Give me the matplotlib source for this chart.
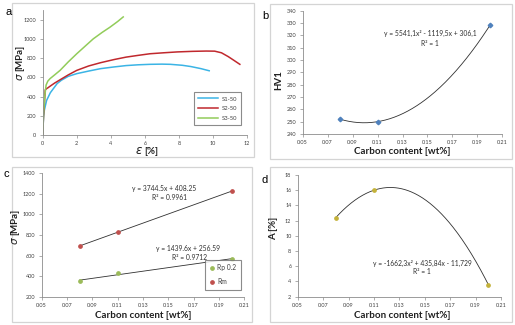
import numpy as np
import matplotlib
matplotlib.use("Agg")
import matplotlib.pyplot as plt
from matplotlib.patches import Rectangle

plt.rcParams['font.family'] = ['Lato', 'DejaVu Sans']

# ---------------- data ----------------
# panel a: stress-strain curves
s1_strain = [0, 0.05, 0.1, 0.23, 0.45, 0.63, 0.85, 1.1, 1.5, 2.0, 2.7, 3.4, 4.2, 4.9, 5.6, 6.3, 7.0, 7.5, 8.2, 8.7, 9.3, 9.78]
s1_stress = [0, 190, 260, 360, 440, 483, 535, 570, 610, 638, 665, 690, 708, 722, 730, 735, 737, 735, 725, 712, 690, 668]
s2_strain = [0, 0.05, 0.1, 0.15, 0.25, 0.3, 0.43, 0.7, 1.0, 1.5, 2.0, 2.7, 3.4, 4.2, 4.9, 5.6, 6.3, 7.1, 7.9, 8.8, 9.6, 10.1, 10.5, 10.9, 11.2, 11.58]
s2_stress = [0, 200, 330, 470, 485, 490, 507, 540, 572, 625, 672, 718, 752, 785, 810, 828, 845, 855, 864, 870, 873, 872, 855, 815, 780, 735]
s3_strain = [0, 0.05, 0.12, 0.2, 0.3, 0.43, 0.7, 1.02, 1.5, 2.0, 2.5, 2.97, 3.5, 3.95, 4.4, 4.73]
s3_stress = [0, 220, 400, 520, 560, 586, 625, 672, 760, 845, 925, 1000, 1068, 1121, 1180, 1228]
a_labels = ['S1-50', 'S2-50', 'S3-50']

# panels b-d: properties vs carbon content
carbon = [0.08, 0.11, 0.20]
hv1 = [252, 250, 328]
rp02 = [350, 428, 566]
rm = [690, 832, 1225]
elong = [12.4, 16.0, 3.6]

eq_b = ['y = 5541,1x² - 1119,5x + 306,1', 'R² = 1']
eq_c_rm = ['y = 3744.5x + 408.25', 'R² = 0.9961']
eq_c_rp = ['y = 1439.6x + 256.59', 'R² = 0.9712']
eq_d = ['y = -1662,3x² + 435,84x - 11,729', 'R² = 1']

carbon_ticks = [0.05, 0.07, 0.09, 0.11, 0.13, 0.15, 0.17, 0.19, 0.21]

# ---------------- figure ----------------
W, H = 515, 325
fig = plt.figure(figsize=(W / 100, H / 100), dpi=100)

def ax_px(x0, y0, x1, y1):
    return fig.add_axes([x0 / W, 1 - y1 / H, (x1 - x0) / W, (y1 - y0) / H])

def fx(x):
    return x / W

def fy(y):
    return 1 - y / H

SP = '#8c8c8c'
TK = '#404040'
LBL = 7
EQ = 4.9

def style(ax):
    for s in ['top', 'right']:
        ax.spines[s].set_visible(False)
    for s in ['left', 'bottom']:
        ax.spines[s].set_color(SP)
        ax.spines[s].set_linewidth(0.6)
    ax.tick_params(direction='out', length=2, width=0.5, color=SP,
                   labelsize=4, labelcolor=TK, pad=2.5)

# frames (chart areas)
for (x0, y0, x1, y1) in [(12, 3, 254, 157), (270, 4, 512, 159),
                         (12, 167, 252, 322), (270, 167, 512, 322)]:
    fig.patches.append(Rectangle((fx(x0), fy(y1)), (x1 - x0) / W, (y1 - y0) / H,
                                 transform=fig.transFigure, fill=False,
                                 edgecolor='#d4d4d4', linewidth=0.9))

# panel letters
for t, (x, y) in zip('abcd', [(5, 12), (262, 16), (4, 174), (262, 180)]):
    fig.text(fx(x), fy(y), t, fontsize=8, family='Liberation Sans',
             ha='left', va='center')

# ---- panel a ----
axa = ax_px(42.7, 10, 247, 135)
style(axa)
axa.plot(s1_strain, s1_stress, color='#3bb4e5', lw=1.1, label=a_labels[0])
axa.plot(s2_strain, s2_stress, color='#c0282d', lw=1.1, label=a_labels[1])
axa.plot(s3_strain, s3_stress, color='#92cc5a', lw=1.1, label=a_labels[2])
axa.set_xlim(0, 12)
axa.set_ylim(0, 1300)
axa.set_xticks(range(0, 13, 2))
axa.set_yticks(range(0, 1201, 200))
leg = axa.legend(loc='lower right', bbox_to_anchor=(0.985, 0.056), fontsize=4.2,
                 frameon=True, fancybox=False, handlelength=3.4,
                 borderpad=0.7, labelspacing=0.8, handletextpad=0.6)
leg.get_frame().set_edgecolor('#6e6e6e')
leg.get_frame().set_linewidth(0.8)
for t in leg.get_texts():
    t.set_color(TK)
fig.text(fx(143), fy(151), r'$\varepsilon$', fontsize=8.5, ha='right', va='center',
         family='DejaVu Serif', color='#202020')
fig.text(fx(144), fy(151), '[%]', fontsize=LBL, weight='bold', ha='left',
         va='center', color='#202020')
fig.text(fx(20), fy(72), r'$\sigma$', fontsize=7.5, rotation=90, ha='center',
         va='top', color='#202020')
fig.text(fx(20), fy(71), '[MPa]', fontsize=LBL, weight='bold', rotation=90,
         ha='center', va='bottom', color='#202020')

# ---- panel b ----
axb = ax_px(302.7, 10.7, 502.3, 134)
style(axb)
cb = np.polyfit(carbon, hv1, 2)
xs = np.linspace(carbon[0], carbon[-1], 200)
axb.plot(xs, np.polyval(cb, xs), color='#303030', lw=0.6)
axb.plot(carbon, hv1, 'D', color='#4f81bd', ms=2.3, ls='none')
axb.set_xlim(0.05, 0.21)
axb.set_ylim(240, 340)
axb.set_xticks(carbon_ticks)
axb.set_xticklabels([f'{v:.2f}' for v in carbon_ticks])
axb.set_yticks(range(240, 341, 10))
fig.text(fx(430), fy(33), eq_b[0], fontsize=EQ, ha='center', va='center', color='#303030')
fig.text(fx(430), fy(43), eq_b[1], fontsize=EQ, ha='center', va='center', color='#303030')
fig.text(fx(402), fy(151), 'Carbon content [wt%]', fontsize=LBL, weight='bold',
         ha='center', va='center', color='#202020')
fig.text(fx(279), fy(80), 'HV1', fontsize=LBL, weight='bold', rotation=90,
         ha='center', va='center', color='#202020')

# ---- panel c ----
axc = ax_px(41.7, 173.3, 244.3, 296.7)
style(axc)
for ys in (rp02, rm):
    p = np.polyfit(carbon, ys, 1)
    xl = np.array([carbon[0], carbon[-1]])
    axc.plot(xl, np.polyval(p, xl), color='#303030', lw=0.6)
axc.plot(carbon, rp02, 'o', color='#9bbb59', ms=2.4, ls='none', label='Rp 0.2')
axc.plot(carbon, rm, 'o', color='#c0504d', ms=2.4, ls='none', label='Rm')
axc.set_xlim(0.05, 0.21)
axc.set_ylim(200, 1400)
axc.set_xticks(carbon_ticks)
axc.set_xticklabels([f'{v:.2f}' for v in carbon_ticks])
axc.set_yticks(range(200, 1401, 200))
legc = axc.legend(loc='lower right', bbox_to_anchor=(1.0, 0.03), fontsize=4.8,
                  frameon=True, fancybox=False, handlelength=0.6,
                  borderpad=0.7, labelspacing=1.0, handletextpad=0.5)
legc.get_frame().set_edgecolor('#6e6e6e')
legc.get_frame().set_linewidth(0.8)
for t in legc.get_texts():
    t.set_color(TK)
fig.text(fx(164), fy(188), eq_c_rm[0], fontsize=EQ, ha='center', va='center', color='#303030')
fig.text(fx(170), fy(198), eq_c_rm[1], fontsize=EQ, ha='center', va='center', color='#303030')
fig.text(fx(188), fy(248), eq_c_rp[0], fontsize=EQ, ha='center', va='center', color='#303030')
fig.text(fx(190), fy(257), eq_c_rp[1], fontsize=EQ, ha='center', va='center', color='#303030')
fig.text(fx(143), fy(315), 'Carbon content [wt%]', fontsize=LBL, weight='bold',
         ha='center', va='center', color='#202020')
fig.text(fx(15), fy(236), r'$\sigma$', fontsize=7.5, rotation=90, ha='center',
         va='top', color='#202020')
fig.text(fx(15), fy(235), '[MPa]', fontsize=LBL, weight='bold', rotation=90,
         ha='center', va='bottom', color='#202020')

# ---- panel d ----
axd = ax_px(297.7, 175, 501, 296.7)
style(axd)
cd = np.polyfit(carbon, elong, 2)
axd.plot(xs, np.polyval(cd, xs), color='#303030', lw=0.6)
axd.plot(carbon, elong, 'o', color='#c4b23a', ms=2.4, ls='none')
axd.set_xlim(0.05, 0.21)
axd.set_ylim(2, 18)
axd.set_xticks(carbon_ticks)
axd.set_xticklabels([f'{v:.2f}' for v in carbon_ticks])
axd.set_yticks(range(2, 19, 2))
fig.text(fx(422), fy(263), eq_d[0], fontsize=EQ, ha='center', va='center', color='#303030')
fig.text(fx(422), fy(272), eq_d[1], fontsize=EQ, ha='center', va='center', color='#303030')
fig.text(fx(402), fy(315), 'Carbon content [wt%]', fontsize=LBL, weight='bold',
         ha='center', va='center', color='#202020')
fig.text(fx(274), fy(228), 'A [%]', fontsize=LBL, weight='bold', rotation=90,
         ha='center', va='center', color='#202020')

fig.savefig('out.png', dpi=100)
